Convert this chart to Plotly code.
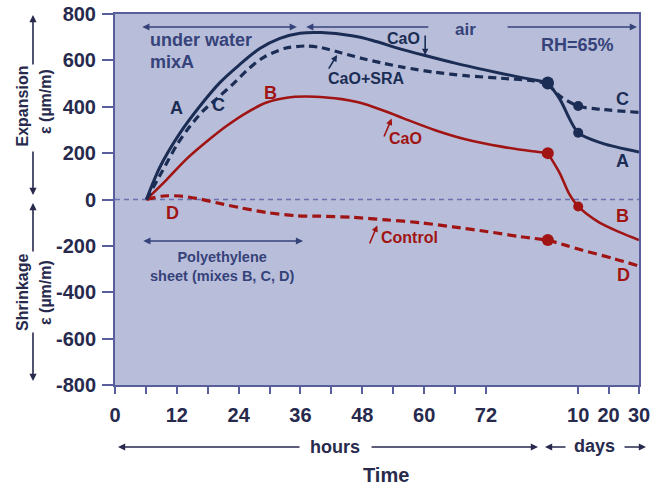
import plotly.graph_objects as go

# ---- time axis: hours are plotted directly, days on a compressed scale after the break
DAY_ORIGIN = 84.0      # axis position where the day scale begins
DAY_STEP = 0.59        # axis units per day


def day_pos(days):
    return [DAY_ORIGIN + DAY_STEP * d for d in days]


# ---- strain readings (µm/m)
# Mix A: CaO, cured under water
hours_A = [6.1, 8.7, 12.6, 16.5, 20.4, 24.2, 28.1, 32.0, 35.9, 40, 46, 50, 55, 60, 66, 72, 78, 84]
strain_A = [0, 139, 286, 403, 505, 582, 651, 695, 717, 720, 706, 686, 652, 622, 588, 558, 530, 505]
days_A = [0, 4, 10, 18, 30]
strain_A_days = [505, 432, 288, 242, 205]
marker_days_A = [0, 10]
marker_A = [505, 288]

# Mix C: CaO + SRA, polyethylene sheet
hours_C = [6.1, 9, 12, 14, 17, 20, 23, 26, 29, 33, 37, 40, 44, 48, 52, 56, 62, 68, 75, 81, 84]
strain_C = [0, 115, 235, 300, 380, 440, 500, 565, 615, 652, 662, 655, 632, 608, 588, 570, 549, 534, 523, 512, 500]
days_C = [0, 4, 10, 18, 30]
strain_C_days = [500, 446, 403, 388, 376]
marker_days_C = [0, 10]
marker_C = [500, 403]

# Mix B: CaO, polyethylene sheet
hours_B = [6.1, 10, 13.9, 17.8, 21.7, 25.5, 29.4, 33.3, 37, 41, 44, 47, 50, 53, 56, 62, 68, 75, 81, 84]
strain_B = [0, 85, 175, 250, 318, 374, 418, 439, 444, 440, 433, 420, 400, 376, 350, 300, 260, 228, 208, 200]
days_B = [0, 4, 7, 10, 17, 24, 30]
strain_B_days = [200, 112, 25, -30, -100, -143, -175]
marker_days_B = [0, 10]
marker_B = [200, -30]

# Mix D: control, polyethylene sheet
hours_D = [6.1, 9.4, 12.6, 15.8, 19.7, 24.2, 29.4, 35.2, 39.8, 46.2, 52.7, 59.2, 65.6, 72.1, 78.6, 84]
strain_D = [0, 15, 15, 5, -14, -35, -56, -70, -72, -77, -88, -100, -118, -138, -160, -175]
days_D = [0, 6, 11.4, 21.5, 30]
strain_D_days = [-175, -198, -219, -254, -287]
marker_days_D = [0]
marker_D = [-175]

# ---- tick labels
hour_ticks = list(range(0, 73, 6))
hour_labels = [str(h) if h % 12 == 0 else "" for h in hour_ticks]
day_ticks = [10, 20, 30]
day_labels = ["10", "20", "30"]
strain_ticks = list(range(-800, 801, 200))
strain_labels = [str(v) for v in strain_ticks]   # plain hyphen for negatives

NAVY = "#1b2d55"
RED = "#a01414"
TEXT_NAVY = "#36427a"
AXIS = "#585d9c"
TICK_TEXT = "#272a4d"
FONT = "Liberation Sans"

fig = go.Figure()


def add_curve(hours, vals, days, vals_days, mdays, mvals, color, dash, width):
    for xs, ys in ((hours, vals), (day_pos(days), vals_days)):
        fig.add_trace(go.Scatter(
            x=xs, y=ys, mode="lines",
            line=dict(color=color, width=width, dash=dash, shape="spline", smoothing=0.8),
            showlegend=False, hoverinfo="skip"))
    sizes = [12 if d == 0 else 10 for d in mdays]
    fig.add_trace(go.Scatter(
        x=day_pos(mdays), y=mvals, mode="markers",
        marker=dict(color=color, size=sizes, opacity=1, line=dict(width=0)),
        showlegend=False, hoverinfo="skip"))


add_curve(hours_D, strain_D, days_D, strain_D_days, marker_days_D, marker_D, RED, "9px,5px", 3.2)
add_curve(hours_B, strain_B, days_B, strain_B_days, marker_days_B, marker_B, RED, "solid", 2.6)
add_curve(hours_C, strain_C, days_C, strain_C_days, marker_days_C, marker_C, NAVY, "8px,5px", 3.2)
add_curve(hours_A, strain_A, days_A, strain_A_days, marker_days_A, marker_A, NAVY, "solid", 3.0)

ann = []


def label(text, x, y, color, size=18, xanchor="center", ref="data", angle=0):
    d = dict(text=text, x=x, y=y, showarrow=False, xanchor=xanchor, yanchor="middle",
             textangle=angle,
             font=dict(family=FONT, size=size, color=color, weight="bold"))
    if ref == "paper":
        d.update(xref="paper", yref="paper")
    else:
        d.update(xref="x", yref="y")
    ann.append(d)


def arrow(x, y, ax, ay, color=TEXT_NAVY, both=False, width=1.6, ref="data", size=0.9):
    d = dict(text="", x=x, y=y, ax=ax, ay=ay, showarrow=True,
             arrowhead=2, arrowsize=size, arrowwidth=width, arrowcolor=color,
             arrowside="end+start" if both else "end", startarrowhead=2, startarrowsize=size)
    if ref == "paper":
        d.update(xref="paper", yref="paper", axref="pixel", ayref="pixel")
    else:
        d.update(xref="x", yref="y", axref="x", ayref="y")
    ann.append(d)


# curing regime along the top
arrow(35.3, 744, 5.0, 744, both=True)
arrow(37.1, 744, 61.1, 744)
arrow(101.3, 744, 75.9, 744)
label("under water", 6.4, 688, TEXT_NAVY, 18, xanchor="left")
label("mixA", 6.4, 593, TEXT_NAVY, 18, xanchor="left")
label("air", 68.1, 735, TEXT_NAVY, 17)
label("RH=65%", 89.7, 666, TEXT_NAVY, 18)

# curve call-outs
label("CaO", 55.9, 695, NAVY, 16)
arrow(60.2, 623, 60.2, 714, color=NAVY, size=0.8)
label("CaO+SRA", 48.7, 520, NAVY, 16)
arrow(43.1, 623, 41.3, 558, color=NAVY, size=0.8)
label("CaO", 56.3, 263, RED, 16)
arrow(53.7, 349, 52.1, 265, color=RED, size=0.8)
label("Control", 57.1, -166, RED, 16)
arrow(50.9, -112, 49.3, -196, color=RED, size=0.8)

# mix letters
label("A", 12.0, 395, NAVY)
label("C", 20.0, 408, NAVY)
label("B", 30.1, 459, RED)
label("D", 11.1, -58, RED)
label("C", 98.4, 433, NAVY)
label("A", 98.4, 166, NAVY)
label("B", 98.4, -71, RED)
label("D", 98.6, -326, RED)

# polyethylene sheet period
arrow(36.5, -179, 5.2, -179, both=True)
label("Polyethylene<br>sheet (mixes B, C, D)", 20.8, -291, TEXT_NAVY, 14.5)

# side captions for expansion / shrinkage
label("Expansion", -0.1756, 0.7534, TICK_TEXT, 16, ref="paper", angle=-90)
label("ε (µm/m)", -0.1317, 0.7655, TICK_TEXT, 16, ref="paper", angle=-90)
arrow(-0.1565, 0.9973, 0, 51, color=TICK_TEXT, ref="paper")
arrow(-0.1565, 0.5121, 0, -45, color=TICK_TEXT, ref="paper")
label("Shrinkage", -0.1756, 0.2507, TICK_TEXT, 16, ref="paper", angle=-90)
label("ε (µm/m)", -0.1317, 0.2507, TICK_TEXT, 16, ref="paper", angle=-90)
arrow(-0.1565, 0.4906, 0, 50, color=TICK_TEXT, ref="paper")
arrow(-0.1565, 0.0108, 0, -50, color=TICK_TEXT, ref="paper")

# time units under the axis
label("hours", 0.4198, -0.1671, TICK_TEXT, 18, ref="paper")
arrow(0.0057, -0.1671, 183, 0, color=TICK_TEXT, ref="paper")
arrow(0.8073, -0.1671, -168, 0, color=TICK_TEXT, ref="paper")
label("days", 0.916, -0.1645, TICK_TEXT, 18, ref="paper")
arrow(0.8206, -0.1671, 22, 0, color=TICK_TEXT, ref="paper")
arrow(1.0134, -0.1671, -23, 0, color=TICK_TEXT, ref="paper")
label("Time", 0.5172, -0.2426, TICK_TEXT, 20, ref="paper")

fig.update_layout(
    width=652, height=488,
    margin=dict(l=115, r=13, t=14, b=103, autoexpand=False),
    paper_bgcolor="white",
    plot_bgcolor="#b8bed9",
    annotations=ann,
    shapes=[dict(type="line", xref="paper", yref="y", x0=0, x1=1, y0=0, y1=0,
                 line=dict(color="#6a70b0", width=1.4, dash="5px,4px"), layer="below")],
    font=dict(family=FONT),
)

fig.update_xaxes(
    range=[0, DAY_ORIGIN + DAY_STEP * 30],
    tickvals=hour_ticks + day_pos(day_ticks),
    ticktext=hour_labels + day_labels,
    ticks="outside", ticklen=7, tickwidth=2, tickcolor=AXIS,
    tickfont=dict(family=FONT, size=20, color=TICK_TEXT, weight="bold"),
    ticklabelstandoff=4,
    automargin=False,
    showline=True, linecolor=AXIS, linewidth=2, mirror=True,
    showgrid=False, zeroline=False,
)
fig.update_yaxes(
    range=[-800, 800],
    tickvals=strain_ticks,
    ticktext=strain_labels,
    ticks="outside", ticklen=11, tickwidth=2, tickcolor=AXIS,
    tickfont=dict(family=FONT, size=20, color=TICK_TEXT, weight="bold"),
    ticklabelstandoff=2,
    automargin=False,
    showline=True, linecolor=AXIS, linewidth=2, mirror=True,
    showgrid=False, zeroline=False,
)

fig.write_html("out.html")
